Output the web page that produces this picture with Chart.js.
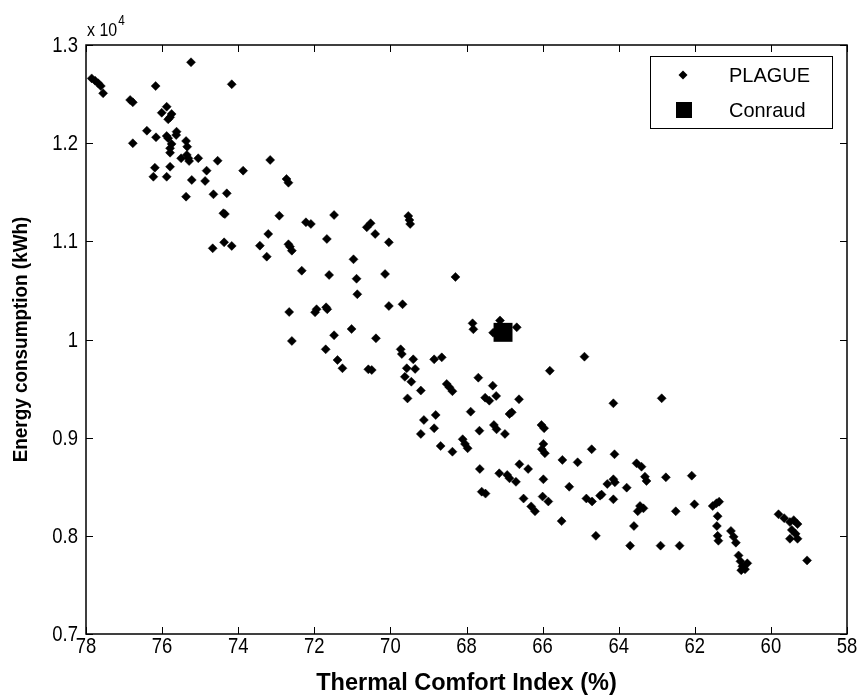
<!DOCTYPE html>
<html>
<head>
<meta charset="utf-8">
<script src="https://cdn.jsdelivr.net/npm/chart.js@4/dist/chart.umd.min.js"></script>
<style>
  html, body { margin: 0; padding: 0; background: #fff; }
  #wrap { width: 861px; height: 698px; }
</style>
</head>
<body>
<div id="wrap"><canvas id="c" width="861" height="698"></canvas></div>
<script>
// PLAGUE solutions: thermal comfort index (%) and energy consumption (kWh)
const comfortIndex = [
  77.85, 77.76, 77.68, 77.61, 77.55, 75.24, 74.17, 76.17, 76.84, 76.77,
  75.88, 76.01, 75.75, 75.79, 75.84, 76.40, 76.16, 75.88, 75.84, 75.62,
  75.63, 76.77, 75.75, 75.79, 75.37, 75.34, 75.79, 75.35, 75.31, 75.50,
  75.05, 75.29, 74.54, 73.16, 76.19, 75.79, 74.83, 73.87, 76.23, 75.88,
  75.22, 74.87, 72.73, 72.68, 74.65, 74.30, 75.37, 74.39, 74.35, 72.92,
  72.22, 72.09, 73.21, 71.67, 74.37, 74.17, 74.67, 73.43, 72.68, 72.64,
  71.48, 69.53, 69.50, 69.48, 70.62, 70.52, 70.40, 70.04, 73.25, 72.59,
  70.97, 72.33, 71.61, 70.89, 70.14, 68.29, 70.87, 72.66, 71.98, 71.94,
  71.69, 71.66, 70.04, 69.68, 67.84, 67.82, 67.12, 67.30, 72.59, 71.48,
  71.02, 70.38, 71.70, 71.39, 71.26, 70.58, 70.49, 69.73, 69.70, 69.40,
  69.57, 69.35, 68.85, 68.65,
  66.68, 64.90, 65.81, 67.69, 67.31, 68.52, 68.45, 68.37, 67.51, 67.40,
  67.22, 66.62, 64.14, 62.87, 66.81, 66.87, 67.89, 68.81, 69.12, 68.85,
  69.20, 67.66, 67.28, 67.21, 66.99, 66.03, 65.96, 68.68, 68.37, 68.10,
  68.04, 67.97, 65.98, 66.02, 65.94, 64.71, 64.11, 65.48, 65.08, 66.61,
  67.65, 67.14, 66.93, 66.87, 66.38, 63.53, 63.40, 63.31, 62.76, 65.98,
  64.14,
  63.27, 62.08, 64.30, 64.10, 63.79, 64.49, 64.14, 63.44, 63.35, 62.01,
  61.53, 61.43, 61.36,
  69.62, 69.45, 69.55, 69.20, 67.60, 67.50, 66.70, 66.50, 66.30, 66.20,
  66.00, 65.85, 65.50, 65.30, 64.85, 64.70, 64.60, 64.45, 63.70, 63.60,
  63.50, 62.90, 62.50, 62.40, 61.40, 61.42, 61.40, 61.38, 61.05, 60.98,
  60.92, 60.85, 60.80, 60.75, 60.78, 60.68, 60.62, 59.80, 59.65, 59.50,
  59.40, 59.30, 59.45, 59.35, 59.50, 59.30, 59.05
];
const energyKWh = [
  12660, 12636, 12610, 12582, 12508, 12824, 12600, 12582, 12440, 12416,
  12371, 12310, 12297, 12264, 12243, 12127, 12060, 12073, 12050, 12117,
  12083, 11999, 11992, 11948, 12022, 11964, 11903, 11880, 11846, 11846,
  11846, 11818, 11821, 11829, 11750, 11760, 11720, 11720, 11658, 11658,
  11625, 11615, 11635, 11597, 11479, 11489, 11455, 11286, 11278, 11261,
  11194, 11177, 11075, 11024, 10990, 10953, 10929, 10956, 10970, 10946,
  11268, 11258, 11217, 11177, 11143, 11184, 11075, 10990, 10844, 10905,
  10817, 10701, 10657, 10619, 10667, 10637, 10461, 10280, 10277, 10308,
  10328, 10308, 10341, 10359, 10165, 10104, 10194, 10069, 9985, 10043,
  10107, 10012, 9900, 9791, 9707, 9696, 9689, 9900, 9852, 9798,
  9707, 9700, 9798, 9818,
  10124, 9825, 9682, 9611, 9530, 9547, 9513, 9473, 9407, 9377,
  9425, 9391, 9350, 9401, 9258, 9241, 9265, 9231, 9180, 9096,
  9038, 9071, 9129, 9085, 9038, 9129, 9096, 8915, 8857, 8984,
  8936, 8892, 8936, 8882, 8841, 8882, 8831, 8773, 8749, 8729,
  8681, 8637, 8620, 8586, 8681, 8739, 8704, 8603, 8596, 8576,
  8576,
  8559, 8613, 8528, 8545, 8491, 8409, 8372, 8304, 8280, 8321,
  8304, 8332, 8348,
  9620, 9570, 9400, 9480, 8450, 8430, 8550, 8380, 8300, 8250,
  8400, 8350, 8150, 8500, 8380, 8350, 8000, 8420, 7900, 8100,
  8250, 7900, 8250, 7900, 8200, 8100, 8000, 7950, 8050, 7990,
  7930, 7800, 7740, 7690, 7650, 7660, 7720, 8220, 8180, 8140,
  8160, 8120, 8060, 8020, 7970, 7970, 7750
];

// Conraud reference solution
const conraudComfort = [67.04];
const conraudEnergy = [10073];

// Axis tick values
const xTickValues = [78, 76, 74, 72, 70, 68, 66, 64, 62, 60, 58];
const yTickValues = [7000, 8000, 9000, 10000, 11000, 12000, 13000];

const seriesNames = ['PLAGUE', 'Conraud'];
const xTitle = 'Thermal Comfort Index (%)';
const yTitle = 'Energy consumption (kWh)';

const toPoints = (xs, ys) => xs.map((x, i) => ({ x: x, y: ys[i] }));

const FAMILY = '"Liberation Sans", Arial, Helvetica, sans-serif';
const PLOT = { left: 86, top: 45, right: 847, bottom: 634 };
const NARROW = 0.84;   // horizontal squeeze for the condensed axis lettering

// draw text squeezed horizontally around its anchor point
function squeezedText(ctx, text, x, y, align, squeeze) {
  ctx.save();
  ctx.translate(x, y);
  ctx.scale(squeeze, 1);
  ctx.textAlign = align;
  ctx.fillText(text, 0, 0);
  ctx.restore();
}

// Frame, inward tick marks, tick labels, axis titles, exponent label and legend
const decorations = {
  id: 'decorations',
  afterDraw(chart) {
    const ctx = chart.ctx;
    const xs = chart.scales.x, ys = chart.scales.y;
    const L = xs.left, R = xs.right, T = ys.top, B = ys.bottom;
    ctx.save();
    ctx.strokeStyle = '#000';
    ctx.lineWidth = 1.5;
    ctx.strokeRect(L, T, R - L, B - T);
    ctx.lineWidth = 1;
    const tl = 7;
    ctx.beginPath();
    xs.ticks.forEach(t => {
      const px = Math.round(xs.getPixelForValue(t.value)) + 0.5;
      ctx.moveTo(px, B); ctx.lineTo(px, B - tl);
      ctx.moveTo(px, T); ctx.lineTo(px, T + tl);
    });
    ys.ticks.forEach(t => {
      const py = Math.round(ys.getPixelForValue(t.value)) + 0.5;
      ctx.moveTo(L, py); ctx.lineTo(L + tl, py);
      ctx.moveTo(R, py); ctx.lineTo(R - tl, py);
    });
    ctx.stroke();

    // tick labels
    ctx.fillStyle = '#000';
    ctx.font = '22px ' + FAMILY;
    ctx.textBaseline = 'middle';
    xs.ticks.forEach(t => {
      squeezedText(ctx, String(t.value), xs.getPixelForValue(t.value), B + 13, 'center', NARROW);
    });
    ys.ticks.forEach(t => {
      const lbl = t.value === 10000 ? '1' : (t.value / 10000).toFixed(1);
      squeezedText(ctx, lbl, L - 8, ys.getPixelForValue(t.value) + 1, 'right', NARROW);
    });

    // exponent label
    ctx.textBaseline = 'alphabetic';
    ctx.font = '19px ' + FAMILY;
    squeezedText(ctx, 'x 10', L + 1, 36, 'left', NARROW);
    const w = ctx.measureText('x 10').width * NARROW;
    ctx.font = '14px ' + FAMILY;
    squeezedText(ctx, '4', L + 2 + w, 25, 'left', NARROW);

    // axis titles
    ctx.textBaseline = 'middle';
    ctx.font = 'bold 24px ' + FAMILY;
    squeezedText(ctx, xTitle, (L + R) / 2, 683, 'center', 0.98);
    ctx.font = 'bold 21px ' + FAMILY;
    ctx.save();
    ctx.translate(21, (T + B) / 2);
    ctx.rotate(-Math.PI / 2);
    squeezedText(ctx, yTitle, 0, 0, 'center', 0.9);
    ctx.restore();

    // legend
    const lx = 650, ly = 56, lw = 182, lh = 72;
    ctx.fillStyle = '#fff';
    ctx.fillRect(lx, ly, lw, lh);
    ctx.lineWidth = 1;
    ctx.strokeStyle = '#000';
    ctx.strokeRect(lx + 0.5, ly + 0.5, lw, lh);
    ctx.fillStyle = '#000';
    const d = 4.5;
    ctx.beginPath();
    ctx.moveTo(683, 75 - d); ctx.lineTo(683 + d, 75); ctx.lineTo(683, 75 + d); ctx.lineTo(683 - d, 75);
    ctx.closePath(); ctx.fill();
    ctx.fillRect(676, 102, 16, 16);
    ctx.font = '21px ' + FAMILY;
    ctx.textBaseline = 'middle';
    squeezedText(ctx, seriesNames[0], 729, 76, 'left', 0.95);
    squeezedText(ctx, seriesNames[1], 729, 111, 'left', 0.95);
    ctx.restore();
  }
};

new Chart(document.getElementById('c'), {
  type: 'scatter',
  data: {
    datasets: [
      {
        label: seriesNames[0],
        data: toPoints(comfortIndex, energyKWh),
        pointStyle: 'rectRot',
        pointRadius: 4.5,
        pointHoverRadius: 4.5,
        backgroundColor: '#000',
        borderColor: '#000',
        borderWidth: 0.5
      },
      {
        label: seriesNames[1],
        data: toPoints(conraudComfort, conraudEnergy),
        pointStyle: 'rect',
        pointRadius: 13.4,
        pointHoverRadius: 13.4,
        backgroundColor: '#000',
        borderColor: '#000',
        borderWidth: 0
      }
    ]
  },
  options: {
    responsive: false,
    animation: false,
    devicePixelRatio: 1,
    layout: { padding: { left: 0, right: 861 - PLOT.right, top: PLOT.top, bottom: 0 } },
    plugins: { legend: { display: false }, tooltip: { enabled: false } },
    scales: {
      x: {
        type: 'linear',
        reverse: true,
        min: 58, max: 78,
        afterBuildTicks: s => { s.ticks = xTickValues.map(v => ({ value: v })); },
        ticks: { display: false },
        grid: { display: false, drawTicks: false },
        border: { display: false },
        afterFit: s => { s.height = 698 - PLOT.bottom; }
      },
      y: {
        type: 'linear',
        min: 7000, max: 13000,
        afterBuildTicks: s => { s.ticks = yTickValues.map(v => ({ value: v })); },
        ticks: { display: false },
        grid: { display: false, drawTicks: false },
        border: { display: false },
        afterFit: s => { s.width = PLOT.left; }
      }
    }
  },
  plugins: [decorations]
});
</script>
</body>
</html>
